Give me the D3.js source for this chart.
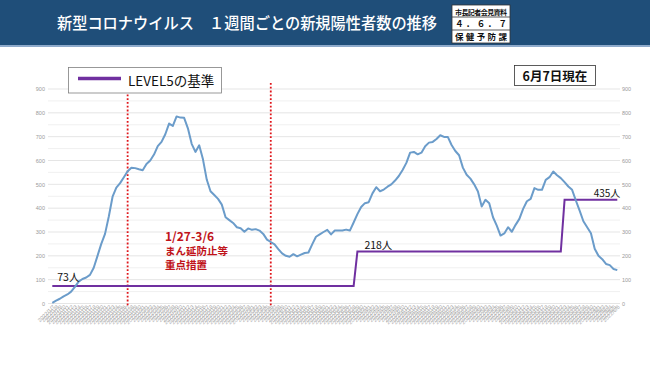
<!DOCTYPE html>
<html><head><meta charset="utf-8">
<script src="https://cdn.jsdelivr.net/npm/d3@7"></script>
<style>
html,body{margin:0;padding:0;background:#fff;}
svg{display:block;font-family:"Noto Sans CJK JP","Noto Sans",sans-serif;}
</style></head>
<body><svg id="c" width="650" height="365"></svg>
<script>
// ---- data ----
const startDate = "2022-01-07";
const weeklyCases = [3,12,20,30,38,50,70,92,103,109,120,150,200,250,292,365,448,486,505,530,
555,570,568,563,559,585,600,625,660,678,710,755,745,785,780,779,735,670,636,664,
605,520,471,455,439,415,362,350,338,320,316,301,315,309,312,306,292,268,258,248,
228,210,200,196,207,198,205,212,214,248,280,290,300,309,290,306,306,306,310,306,
340,375,405,421,425,462,488,471,478,490,500,516,535,560,590,633,636,626,633,660,
675,678,690,706,699,699,665,640,622,570,540,524,500,470,407,435,421,362,327,285,
294,320,301,330,355,397,429,439,484,477,477,519,530,554,538,526,509,491,477,432,
390,345,320,295,230,200,186,166,161,145,140];
const levelDates = ["1/7","3/28","3/29","5/22","5/23","6/6"];
const levelValues = [73,73,218,218,435,435];
const levelLabels = [{date:"1/7",text:"73人"},{date:"3/29",text:"218人"},{date:"6/6",text:"435人"}];
const markerDates = ["1/27","3/6"];
const yTicks = [0,100,200,300,400,500,600,700,800,900];
const yMinor = [50,150,250,350,450,550,650,750,850];
const title = "新型コロナウイルス　１週間ごとの新規陽性者数の推移";
const stampRows = ["市長記者会見資料","４．６．７","保 健 予 防 課"];
const legendText = "LEVEL5の基準";
const asOfText = "6月7日現在";
const annotLines = ["1/27-3/6","まん延防止等","重点措置"];

// build date labels
const fmt = d3.timeFormat("%-m/%-d");
const fmtLong = d3.timeFormat("%Y/%-m/%-d");
const d0 = d3.timeParse("%Y-%m-%d")(startDate);
const dayList = weeklyCases.map((v,i)=>d3.timeDay.offset(d0,i));
const dates = dayList.map(fmt);
const longLabel = new Map(dayList.map(d=>[fmt(d),fmtLong(d)]));

const svg = d3.select("#c");
// header
svg.append("rect").attr("x",0).attr("y",0).attr("width",650).attr("height",45).attr("fill","#1f4e79");
svg.append("rect").attr("x",0).attr("y",45).attr("width",650).attr("height",2).attr("fill","#8eaacb");
svg.append("text").attr("x",57).attr("y",29).attr("fill","#fff").attr("font-size",16)
  .attr("font-weight",500).attr("textLength",380).attr("lengthAdjust","spacingAndGlyphs").text(title);
// stamp box
const sx=452, sy=5, sw=58, rowsY=[5,17,30,43];
svg.append("rect").attr("x",sx).attr("y",sy).attr("width",sw).attr("height",38).attr("fill","#fff").attr("stroke","#333").attr("stroke-width",0.8);
[17,30].forEach(y=>svg.append("line").attr("x1",sx).attr("x2",sx+sw).attr("y1",y).attr("y2",y).attr("stroke","#333").attr("stroke-width",0.8));
stampRows.forEach((t,i)=>{
  svg.append("text").attr("x",sx+sw/2).attr("y",rowsY[i]+9.5).attr("text-anchor","middle")
   .attr("font-size",i===0?7:8.5).attr("font-weight",700).attr("fill","#111")
   .attr("textLength",sw-6).attr("lengthAdjust","spacing").text(t);
});

// scales
const x = d3.scalePoint().domain(dates).range([52.3,617.3]);
const y = d3.scaleLinear().domain([0,900]).range([303.5,89]);

// grid
const g = svg.append("g");
g.selectAll(".mn").data(yMinor).join("line").attr("x1",48).attr("x2",620)
  .attr("y1",d=>y(d)).attr("y2",d=>y(d)).attr("stroke","#ececec").attr("stroke-width",0.8);
g.selectAll(".mj").data(yTicks).join("line").attr("x1",48).attr("x2",620)
  .attr("y1",d=>y(d)).attr("y2",d=>y(d)).attr("stroke","#dedede").attr("stroke-width",0.8);

// axes
const yl = d3.axisLeft(y).tickValues(yTicks).tickSize(0).tickPadding(0);
svg.append("g").attr("transform","translate(45,0)").call(yl)
  .call(a=>a.select(".domain").remove())
  .call(a=>a.selectAll("text").attr("font-size",5.5).attr("fill","#9a9a9a"));
const yr = d3.axisRight(y).tickValues(yTicks).tickSize(0).tickPadding(0);
svg.append("g").attr("transform","translate(622,0)").call(yr)
  .call(a=>a.select(".domain").remove())
  .call(a=>a.selectAll("text").attr("font-size",5.5).attr("fill","#9a9a9a"));
const xa = d3.axisBottom(x).tickSize(0).tickPadding(0).tickFormat(d=>longLabel.get(d));
svg.append("g").attr("transform","translate(1,306)").call(xa)
  .call(a=>a.select(".domain").remove())
  .call(a=>a.selectAll("text").attr("font-size",5.5).attr("fill","#a4a4a4")
     .attr("text-anchor","end").attr("dy","0.35em").attr("transform","rotate(-45)"));

// marker lines
svg.selectAll(".mk").data(markerDates).join("line").attr("x1",d=>x(d)).attr("x2",d=>x(d))
  .attr("y1",83).attr("y2",306).attr("stroke","#e0161b").attr("stroke-width",1.8).attr("stroke-dasharray","1.8,2");

// level line
const lvl = levelDates.map((d,i)=>[d,levelValues[i]]);
svg.append("path").datum(lvl).attr("fill","none").attr("stroke","#7030a0").attr("stroke-width",2)
  .attr("d",d3.line().x(d=>x(d[0])).y(d=>y(d[1])));
// cases line
svg.append("path").datum(weeklyCases).attr("fill","none").attr("stroke","#6b9cca").attr("stroke-width",2)
  .attr("stroke-linejoin","round")
  .attr("d",d3.line().x((d,i)=>x(dates[i])).y(d=>y(d)));

// level labels
const lvOf = d=>levelValues[levelDates.indexOf(d)];
svg.append("text").attr("x",x(levelLabels[0].date)+5).attr("y",y(lvOf(levelLabels[0].date))-5)
  .attr("font-size",10.5).attr("fill","#111").text(levelLabels[0].text);
svg.append("text").attr("x",x(levelLabels[1].date)+7).attr("y",y(lvOf(levelLabels[1].date))-3)
  .attr("font-size",10.5).attr("fill","#111").text(levelLabels[1].text);
svg.append("text").attr("x",x(levelLabels[2].date)+3).attr("y",y(lvOf(levelLabels[2].date))-2.5)
  .attr("text-anchor","end").attr("font-size",10).attr("fill","#111").text(levelLabels[2].text);

// annotation
annotLines.forEach((t,i)=>{
  svg.append("text").attr("x",165).attr("y",[240.5,255,268.5][i]).attr("fill","#c0131a")
   .attr("font-size",i===0?12:10.5).attr("font-weight",700).text(t);
});

// legend
svg.append("rect").attr("x",68.5).attr("y",67.5).attr("width",153).attr("height",25.5)
  .attr("fill","#fff").attr("stroke","#7f7f7f").attr("stroke-width",0.8);
svg.append("line").attr("x1",78).attr("x2",121).attr("y1",78.5).attr("y2",78.5).attr("stroke","#7030a0").attr("stroke-width",3.5);
svg.append("text").attr("x",128).attr("y",86).attr("font-size",13.5).attr("fill","#111").text(legendText);

// as-of box
svg.append("rect").attr("x",514.5).attr("y",65.5).attr("width",81).attr("height",20)
  .attr("fill","#fff").attr("stroke","#333").attr("stroke-width",0.8);
svg.append("text").attr("x",555).attr("y",80.5).attr("text-anchor","middle").attr("font-size",12.5)
  .attr("font-weight",700).attr("fill","#111").text(asOfText);
</script></body></html>
